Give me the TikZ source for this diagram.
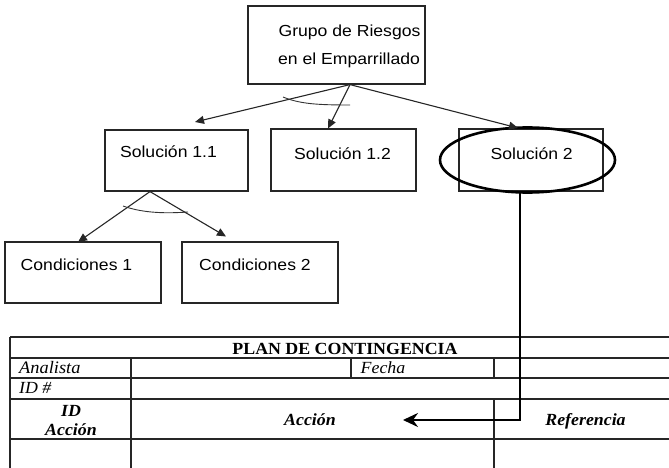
\documentclass[tikz,border=0pt]{standalone}
\usepackage{fontspec}
\setmainfont{Liberation Serif}[FakeStretch=1.05]
\newfontfamily\arialf{Liberation Sans}[FakeStretch=1.1]
\usetikzlibrary{arrows.meta,shapes.geometric,calc}
\begin{document}
\begin{tikzpicture}[x=1pt,y=-1pt,
  box/.style={draw=black!85,line width=1.2pt,rectangle,inner sep=0pt},
  stxt/.style={font=\arialf\fontsize{16}{19}\selectfont,anchor=base,inner sep=0pt},
  ttxt/.style={font=\fontsize{17}{20}\selectfont,anchor=base,inner sep=0pt},
  arr/.style={draw=black!85,line width=1.1pt,-{Triangle[length=9pt,width=8pt]}},
  arcline/.style={draw=black!80,line width=0.9pt},
  tline/.style={draw=black!85,line width=1.1pt},
  big/.style={draw=black,line width=2.6pt}]
\useasboundingbox (0,0) rectangle (669,468);
% boxes
\node[box,minimum width=177pt,minimum height=78pt] (top) at (336.5,45) {};
\node[stxt] (toptA) at (349.5,36.5) {Grupo de Riesgos};
\node[stxt] (toptB) at (349,65) {en el Emparrillado};
\node[box,minimum width=143pt,minimum height=61pt] (s11) at (176.5,160.5) {};
\node[stxt] (s11t) at (168.5,157.5) {Solución 1.1};
\node[box,minimum width=145pt,minimum height=62pt] (s12) at (343.5,160) {};
\node[stxt] (s12t) at (342.5,159.5) {Solución 1.2};
\node[box,minimum width=144pt,minimum height=62pt] (s2) at (531,160) {};
\node[stxt] (s2t) at (531.7,159.5) {Solución 2};
\node[big,ellipse,minimum width=175pt,minimum height=65pt,inner sep=0pt] (el) at (527.5,160) {};
\node[box,minimum width=156pt,minimum height=61pt] (c1) at (83,272.5) {};
\node[stxt] (c1t) at (76.5,270.5) {Condiciones 1};
\node[box,minimum width=156pt,minimum height=61pt] (c2) at (260,272.5) {};
\node[stxt] (c2t) at (255,270.5) {Condiciones 2};
% connectors from top
\coordinate (tp) at ($(top.south)+(13.5,0)$);
\coordinate (a1) at (195,122);
\coordinate (a2) at (328,128.5);
\coordinate (a3) at (518,128);
\draw[arr] (tp) -- (a1);
\draw[arr] (tp) -- (a2);
\draw[arr] (tp) -- (a3);
\draw[arcline] (283,97) .. controls (300,104) and (318,105) .. (350,105);
% connectors from s11
\coordinate (bp) at ($(s11.south)+(-26.5,0)$);
\coordinate (b1) at (78,242);
\coordinate (b2) at (226,236.5);
\draw[arr] (bp) -- (b1);
\draw[arr] (bp) -- (b2);
\draw[arcline] (123,206) .. controls (140,212) and (160,214) .. (188,212);
% table
\draw[tline] (10,337) -- (669,337);
\draw[tline] (10,358) -- (669,358);
\draw[tline] (10,378) -- (669,378);
\draw[tline] (10,399) -- (669,399);
\draw[tline] (10,439) -- (669,439);
\draw[tline] (10,337) -- (10,468);
\draw[tline] (131,358) -- (131,468);
\draw[tline] (351,358) -- (351,378);
\draw[tline] (494,358) -- (494,378);
\draw[tline] (494,399) -- (494,468);
\node[ttxt,font=\bfseries\fontsize{17}{20}\selectfont] (plan) at (345,354) {PLAN DE CONTINGENCIA};
\node[ttxt,anchor=base west,font=\itshape\fontsize{17.5}{20}\selectfont] (anal) at (19,373.5) {Analista};
\node[ttxt,anchor=base west,font=\itshape\fontsize{17}{20}\selectfont] (fecha) at (360.5,373.5) {Fecha};
\node[ttxt,anchor=base west,font=\itshape\fontsize{17}{20}\selectfont] (idn) at (19,393.5) {ID \#};
\node[ttxt,font=\bfseries\itshape\fontsize{17}{20}\selectfont] (idA) at (71,416) {ID};
\node[ttxt,font=\bfseries\itshape\fontsize{17}{20}\selectfont] (accA) at (71,435) {Acción};
\node[ttxt,font=\bfseries\itshape\fontsize{17}{20}\selectfont] (acc) at (310,425) {Acción};
\node[ttxt,font=\bfseries\itshape\fontsize{17}{20}\selectfont] (ref) at (585.5,425) {Referencia};
% thick connector
\coordinate (ks) at (520,192.5);
\coordinate (kc) at (520,420);
\coordinate (ke) at (403,420);
\draw[big,line width=2.3pt,-{Stealth[length=15pt,width=14pt,inset=5pt]}] (ks) -- (kc) -- (ke);
\end{tikzpicture}
\end{document}
